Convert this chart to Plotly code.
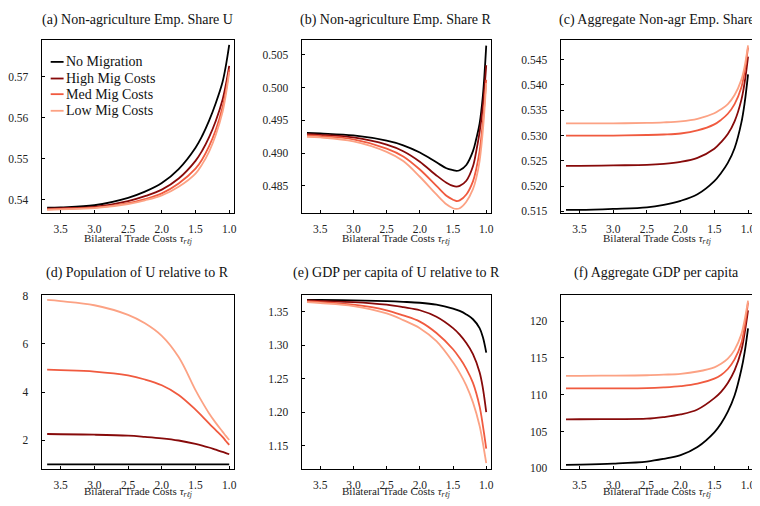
import plotly.graph_objects as go
from plotly.subplots import make_subplots

# ---------------- data ----------------
TAU = [3.7, 3.5, 3.0, 2.5, 2.25, 2.0, 1.75, 1.5, 1.4, 1.3, 1.2, 1.1, 1.05, 1.0]
TAU_B = [3.7, 3.5, 3.0, 2.5, 2.25, 2.0, 1.75, 1.6, 1.5, 1.45, 1.4, 1.3, 1.2, 1.15, 1.1, 1.05, 1.0]
SERIES = ["No Migration", "High Mig Costs", "Med Mig Costs", "Low Mig Costs"]
COLORS = ["#000000", "#870a0a", "#f05a3f", "#fca284"]

a_no   = [.5381, .5382, .5387, .5405, .5420, .5441, .5475, .5527, .5556, .5592, .5635, .5686, .5726, .5777]
a_high = [.5379, .5380, .5383, .5397, .5409, .5425, .5452, .5495, .5520, .5552, .5592, .5643, .5680, .5726]
a_med  = [.5377, .5378, .5381, .5392, .5402, .5416, .5440, .5476, .5499, .5530, .5570, .5625, .5665, .5717]
a_low  = [.5376, .5377, .5380, .5390, .5399, .5411, .5432, .5464, .5487, .5517, .5558, .5613, .5656, .5711]

b_no   = [.4931, .4930, .4927, .4919, .4912, .4901, .4886, .4877, .4874, .4873, .4874, .4882, .4903, .4922, .4945, .4988, .5064]
b_high = [.4929, .4928, .4924, .4913, .4903, .4887, .4866, .4855, .4850, .4849, .4850, .4858, .4880, .4903, .4932, .4972, .5034]
b_med  = [.4927, .4926, .4921, .4907, .4895, .4875, .4850, .4835, .4829, .4827, .4828, .4837, .4857, .4876, .4903, .4948, .5012]
b_low  = [.4925, .4924, .4918, .4902, .4888, .4864, .4837, .4822, .4816, .4815, .4816, .4826, .4845, .4862, .4888, .4935, .5007]

c_no   = [.5153, .5153, .5155, .5158, .5163, .5171, .5184, .5210, .5226, .5246, .5275, .5325, .5365, .5421]
c_high = [.5240, .5240, .5241, .5242, .5244, .5248, .5256, .5274, .5287, .5303, .5328, .5370, .5405, .5456]
c_med  = [.5300, .5300, .5300, .5301, .5302, .5304, .5310, .5322, .5331, .5343, .5362, .5395, .5427, .5474]
c_low  = [.5324, .5324, .5324, .5325, .5326, .5328, .5333, .5344, .5352, .5362, .5380, .5410, .5437, .5478]

d_no   = [1.0] * 14
d_high = [2.26, 2.25, 2.23, 2.19, 2.14, 2.08, 1.99, 1.85, 1.78, 1.70, 1.61, 1.52, 1.47, 1.42]
d_med  = [4.93, 4.91, 4.85, 4.69, 4.52, 4.28, 3.88, 3.27, 2.99, 2.70, 2.42, 2.14, 1.97, 1.81]
d_low  = [7.82, 7.77, 7.60, 7.20, 6.85, 6.33, 5.45, 4.08, 3.58, 3.12, 2.72, 2.36, 2.18, 2.01]

e_no   = [1.3680, 1.3678, 1.3670, 1.3660, 1.3650, 1.3636, 1.3607, 1.3549, 1.3515, 1.3462, 1.3390, 1.3257, 1.3120, 1.2893]
e_high = [1.3670, 1.3662, 1.3646, 1.3607, 1.3570, 1.3524, 1.3427, 1.3257, 1.3160, 1.3035, 1.2870, 1.2600, 1.2360, 1.2005]
e_med  = [1.3655, 1.3645, 1.3607, 1.3524, 1.3447, 1.3354, 1.3184, 1.2942, 1.2810, 1.2650, 1.2440, 1.2090, 1.1800, 1.1461]
e_low  = [1.3646, 1.3632, 1.3587, 1.3476, 1.3377, 1.3257, 1.3063, 1.2748, 1.2590, 1.2400, 1.2150, 1.1800, 1.1540, 1.1243]

f_no   = [100.49, 100.52, 100.66, 100.93, 101.30, 101.81, 102.91, 104.9, 106.1, 107.7, 109.9, 113.4, 115.8, 119.03]
f_high = [106.67, 106.68, 106.70, 106.75, 106.98, 107.33, 108.0, 109.54, 110.4, 111.6, 113.3, 116.0, 118.4, 121.46]
f_med  = [110.86, 110.86, 110.87, 110.90, 111.00, 111.17, 111.5, 112.2, 112.7, 113.5, 114.8, 117.0, 119.3, 122.56]
f_low  = [112.58, 112.58, 112.60, 112.65, 112.73, 112.85, 113.16, 113.73, 114.2, 114.9, 116.1, 118.2, 120.2, 122.78]

TITLES = ["(a) Non-agriculture Emp. Share U", "(b) Non-agriculture Emp. Share R",
          "(c) Aggregate Non-agr Emp. Share", "(d) Population of U relative to R",
          "(e) GDP per capita of U relative to R", "(f) Aggregate GDP per capita"]
XTICKS = [3.5, 3.0, 2.5, 2.0, 1.5, 1.0]
YTICKS = [[0.54, 0.55, 0.56, 0.57],
          [0.485, 0.490, 0.495, 0.500, 0.505],
          [0.515, 0.520, 0.525, 0.530, 0.535, 0.540, 0.545],
          [2, 4, 6, 8],
          [1.15, 1.20, 1.25, 1.30, 1.35],
          [100, 105, 110, 115, 120]]
YFMT = [".2f", ".3f", ".3f", "d", ".2f", "d"]
YRANGES = [[0.5367, 0.5788], [0.4808, 0.5072], [0.5146, 0.5488],
           [0.82, 8.04], [1.116, 1.3757], [99.96, 123.6]]
XLABEL = "Bilateral Trade Costs <i>τ</i><sub><i>rℓj</i></sub>"

PANELS = [[a_no, a_high, a_med, a_low], [b_no, b_high, b_med, b_low],
          [c_no, c_high, c_med, c_low], [d_no, d_high, d_med, d_low],
          [e_no, e_high, e_med, e_low], [f_no, f_high, f_med, f_low]]
PANEL_X = [TAU, TAU_B, TAU, TAU, TAU, TAU]

# ---------------- layout geometry ----------------
# Pixel positions measured on the screen; the page body adds an 8 px margin,
# so the figure itself is shifted by OFF.
OFF = 8
W, H = 760 - OFF, 506 - OFF
COLS_PX = [(38, 232), (300, 491), (561, 755)]
ROWS_PX = [(36, 213), (296, 474)]
TITLE_Y_PX = [15, 274]
XLAB_Y_PX = [239, 498]
LEG_Y_PX = [58, 75, 91, 108]
LEG_KEY_PX = (47, 60)
LEG_TEXT_X_PX = 60
FONT = "Liberation Serif, Times New Roman, serif"
LINE_W = 1.8


def px_x(v):
    return (v - OFF) / W


def px_y(v):
    return 1 - (v - OFF) / H


fig = make_subplots(rows=2, cols=3)

for p, series in enumerate(PANELS):
    r, c = divmod(p, 3)
    for s, vals in enumerate(series):
        fig.add_trace(go.Scatter(
            x=PANEL_X[p], y=vals, mode="lines", name=SERIES[s],
            line=dict(color=COLORS[s], width=LINE_W, shape="spline", smoothing=1.0),
            showlegend=False, hoverinfo="skip"),
            row=r + 1, col=c + 1)

for p in range(6):
    r, c = divmod(p, 3)
    x0, x1 = COLS_PX[c]
    y0, y1 = ROWS_PX[r]
    sfx = "" if p == 0 else str(p + 1)
    fig.layout["xaxis" + sfx].update(
        domain=[px_x(x0), px_x(x1)], range=[3.78, 0.926], autorange=False,
        tickvals=XTICKS, tickformat=".1f", ticks="inside", ticklen=3,
        tickcolor="black", showline=True, linecolor="black", linewidth=1.2,
        mirror=True, showgrid=False, zeroline=False, ticklabelstandoff=5,
        tickfont=dict(family=FONT, size=11.5, color="#222"))
    fig.layout["yaxis" + sfx].update(
        domain=[px_y(y1), px_y(y0)], range=YRANGES[p], autorange=False,
        tickvals=YTICKS[p], tickformat=YFMT[p], ticks="inside", ticklen=3,
        tickcolor="black", showline=True, linecolor="black", linewidth=1.2,
        mirror=True, showgrid=False, zeroline=False, ticklabelstandoff=10,
        tickfont=dict(family=FONT, size=11.5, color="#222"))
    fig.add_annotation(text=TITLES[p], x=px_x((x0 + x1) / 2), y=px_y(TITLE_Y_PX[r]),
                       xref="paper", yref="paper", showarrow=False,
                       xanchor="center", yanchor="middle",
                       font=dict(family=FONT, size=14, color="#111"))
    fig.add_annotation(text=XLABEL, x=px_x((x0 + x1) / 2), y=px_y(XLAB_Y_PX[r]),
                       xref="paper", yref="paper", showarrow=False,
                       xanchor="center", yanchor="middle",
                       font=dict(family=FONT, size=11, color="#222"))

# legend of panel (a): short coloured key line + label
for s, name in enumerate(SERIES):
    yk = px_y(LEG_Y_PX[s])
    fig.add_shape(type="line", xref="paper", yref="paper",
                  x0=px_x(LEG_KEY_PX[0]), x1=px_x(LEG_KEY_PX[1]), y0=yk, y1=yk,
                  line=dict(color=COLORS[s], width=LINE_W))
    fig.add_annotation(
        text=name, x=px_x(LEG_TEXT_X_PX), y=yk, xref="paper", yref="paper",
        showarrow=False, xanchor="left", yanchor="middle",
        font=dict(family=FONT, size=14, color="#111"))

fig.update_layout(
    width=W, height=H, margin=dict(l=0, r=0, t=0, b=0),
    plot_bgcolor="white", paper_bgcolor="white", showlegend=False,
)

fig.write_html("out.html")
